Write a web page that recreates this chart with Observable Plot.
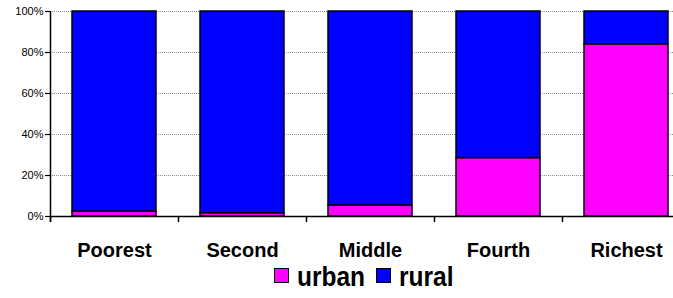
<!DOCTYPE html>
<html><head><meta charset="utf-8">
<script src="https://cdn.jsdelivr.net/npm/d3@7"></script>
<script src="https://cdn.jsdelivr.net/npm/@observablehq/plot@0.6"></script>
<style>
html,body{margin:0;padding:0;background:#fff;overflow:hidden;width:673px;height:298px;}
#chart svg{display:block;overflow:hidden;}
#legend{height:34px;box-sizing:border-box;padding-top:2px;padding-left:274px;display:flex;align-items:flex-start;font-family:"Liberation Sans",Arial,sans-serif;font-weight:bold;font-size:24.5px;line-height:24px;color:#000;}
#legend .sw{width:13px;height:13px;border:1px solid #000;margin-top:2px;margin-right:8px;}
#legend .lab{margin-right:11px;display:inline-block;transform:scaleY(1.1);transform-origin:50% 85%;}
</style></head><body>
<div id="chart"></div>
<div id="legend"></div>
<script>
const categories = ["Poorest", "Second", "Middle", "Fourth", "Richest"];
const urban = [2.4, 1.6, 5.4, 28.5, 84];
const rural = [97.6, 98.4, 94.6, 71.5, 16];
const seriesNames = ["urban", "rural"];
const seriesColors = ["#ff00ff", "#0000ff"];
const yTicks = [0, 20, 40, 60, 80, 100];

const data = categories.flatMap((c, i) => [
  {category: c, series: seriesNames[0], value: urban[i]},
  {category: c, series: seriesNames[1], value: rural[i]}
]);

const plot = Plot.plot({
  width: 673,
  height: 264,
  marginLeft: 50,
  marginRight: -17,
  marginTop: 11,
  marginBottom: 48,
  style: {fontFamily: "'Liberation Sans', Arial, sans-serif", color: "#000", background: "#fff"},
  x: {domain: categories, paddingInner: 0.344, paddingOuter: 0.172, label: null},
  y: {domain: [0, 100], label: null},
  color: {domain: seriesNames, range: seriesColors},
  marks: [
    Plot.ruleY(yTicks.filter(d => d > 0), {stroke: "#8c8c8c", strokeWidth: 1, strokeDasharray: "1,1"}),
    Plot.barY(data, {x: "category", y: "value", fill: "series", stroke: "#000", strokeWidth: 1.5}),
    Plot.ruleY([0], {stroke: "#000", strokeWidth: 1.5}),
    Plot.ruleX(categories, {x: d => d, y1: 0, y2: 0, insetBottom: -6, dx: -64, stroke: "#000", strokeWidth: 1.5}),
    Plot.ruleX([categories[0]], {x: d => d, y1: 100, y2: 0, insetBottom: -6, dx: -64, stroke: "#000", strokeWidth: 1.5}),
    Plot.axisY({ticks: yTicks, tickFormat: d => d + "%", tickSize: 5, tickPadding: 2, fontSize: 11, stroke: "#000", strokeWidth: 1.2}),
    Plot.axisX({tickSize: 0, tickPadding: 26, fontSize: 20, fontWeight: "bold"})
  ]
});
document.getElementById("chart").append(plot);

const legend = document.getElementById("legend");
seriesNames.forEach((name, i) => {
  const sw = document.createElement("span");
  sw.className = "sw";
  sw.style.background = seriesColors[i];
  const lab = document.createElement("span");
  lab.className = "lab";
  lab.textContent = name;
  legend.append(sw, lab);
});
</script>
</body></html>
